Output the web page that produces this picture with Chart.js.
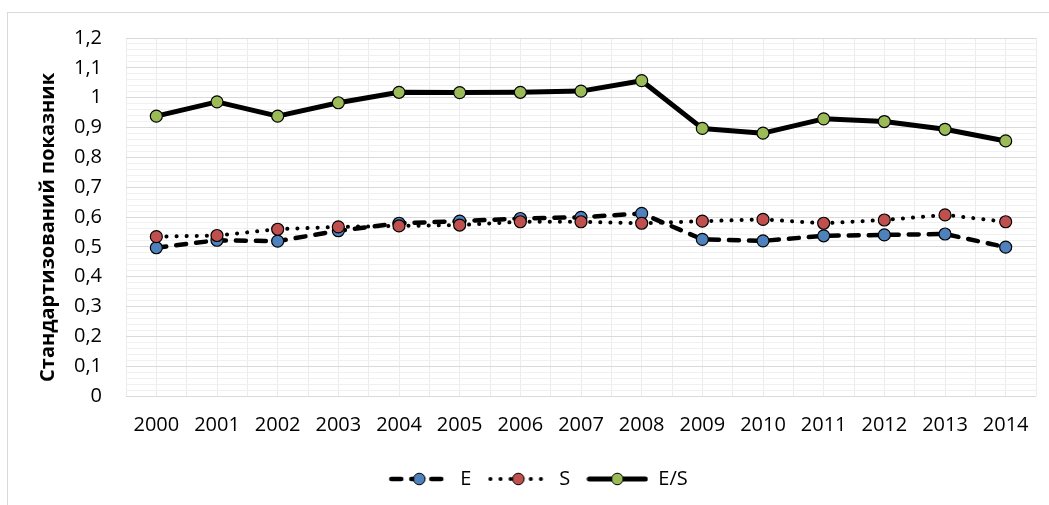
<!DOCTYPE html>
<html>
<head>
<meta charset="utf-8">
<script src="https://cdn.jsdelivr.net/npm/chart.js@4"></script>
<style>
  html, body { margin: 0; padding: 0; background: #fff; overflow: hidden; }
  #frame { position: absolute; left: 7px; top: 12px; width: 1100px; height: 600px; border: 1px solid #d9d9d9; }
  #c { position: absolute; left: 0; top: 0; }
</style>
</head>
<body>
<div id="frame"></div>
<canvas id="c" width="1049" height="505"></canvas>
<script>
const categories = ['2000','2001','2002','2003','2004','2005','2006','2007','2008','2009','2010','2011','2012','2013','2014'];
const seriesE  = [0.497,0.522,0.519,0.554,0.579,0.586,0.595,0.599,0.612,0.525,0.520,0.537,0.540,0.543,0.499];
const seriesS  = [0.534,0.538,0.559,0.567,0.570,0.573,0.584,0.584,0.579,0.586,0.592,0.579,0.590,0.607,0.584];
const seriesES = [0.938,0.986,0.938,0.983,1.018,1.017,1.018,1.022,1.057,0.897,0.881,0.929,0.920,0.894,0.855];
const yTickLabels = ['0','0,1','0,2','0,3','0,4','0,5','0,6','0,7','0,8','0,9','1','1,1','1,2'];
const seriesNames = ['E','S','E/S'];
const yTitle = 'Стандартизований показник';

const BLUE = '#4F81BD', RED = '#C0504D', GREEN = '#9BBB59';
const FONT = "'Open Sans', sans-serif";

const styles = [
  { fill: BLUE,  width: 4.5, dash: [10, 10], },
  { fill: RED,   width: 4,   dash: [0.1, 10], },
  { fill: GREEN, width: 5,   dash: [],        }
];

function legendIcon(st) {
  const cv = document.createElement('canvas');
  cv.width = 62; cv.height = 16;
  const g = cv.getContext('2d');
  g.strokeStyle = '#000';
  g.lineWidth = st.width;
  g.lineCap = 'round';
  g.setLineDash(st.dash);
  g.beginPath(); g.moveTo(3, 8); g.lineTo(59, 8); g.stroke();
  g.setLineDash([]);
  g.beginPath(); g.arc(31, 8, 5.8, 0, Math.PI * 2);
  g.fillStyle = st.fill; g.fill();
  g.lineWidth = 1; g.strokeStyle = '#000'; g.stroke();
  return cv;
}

const dataArrays = [seriesE, seriesS, seriesES];
const datasets = dataArrays.map((arr, i) => ({
  label: seriesNames[i],
  data: arr,
  xAxisID: 'x',
  borderColor: '#000',
  borderWidth: styles[i].width,
  borderDash: styles[i].dash,
  borderCapStyle: 'round',
  borderJoinStyle: 'round',
  pointRadius: 6,
  pointHoverRadius: 6,
  pointBackgroundColor: styles[i].fill,
  pointBorderColor: '#000',
  pointBorderWidth: 1.2,
  tension: 0,
  fill: false,
  order: 3 - i
}));

new Chart(document.getElementById('c'), {
  type: 'line',
  data: { labels: categories, datasets },
  options: {
    responsive: false,
    animation: false,
    devicePixelRatio: 1,
    layout: { padding: { top: 38, right: 13, left: 40, bottom: 6 } },
    plugins: {
      tooltip: { enabled: false },
      legend: {
        position: 'bottom',
        labels: {
          usePointStyle: true,
          pointStyleWidth: 62,
          boxHeight: 16,
          padding: 16,
          color: '#000',
          font: { family: FONT, size: 20 },
          generateLabels: () => seriesNames.map((n, i) => ({
            text: n,
            pointStyle: legendIcon(styles[i]),
            fillStyle: styles[i].fill,
            strokeStyle: '#000',
            lineWidth: 0,
            hidden: false,
            datasetIndex: i,
            fontColor: '#000'
          }))
        }
      }
    },
    scales: {
      x: {
        type: 'category',
        position: 'bottom',
        offset: true,
        grid: { offset: true, color: '#ececec', drawTicks: false },
        border: { display: false },
        ticks: { color: '#000', font: { family: FONT, size: 20 }, padding: 17, maxRotation: 0, autoSkip: false },
        afterFit: s => { s.height = 57; }
      },
      x2: {
        type: 'category',
        position: 'bottom',
        offset: true,
        grid: { offset: false, color: '#ececec', drawTicks: false },
        border: { display: false },
        ticks: { display: false },
        afterFit: s => { s.height = 0; }
      },
      y: {
        type: 'linear',
        min: 0,
        max: 1.2,
        grid: {
          drawTicks: false,
          color: c => (Math.round(c.tick.value * 100) % 10 === 0) ? '#d9d9d9' : '#f0f0f0'
        },
        border: { display: false },
        ticks: {
          stepSize: 0.02,
          maxTicksLimit: 100,
          autoSkip: false,
          padding: 24,
          color: '#000',
          font: { family: FONT, size: 20 },
          callback: v => {
            const k = Math.round(v * 100);
            return k % 10 === 0 ? yTickLabels[k / 10] : '';
          }
        },
        title: {
          display: true,
          text: yTitle + '    ',
          color: '#000',
          font: { family: FONT, size: 20, weight: 'bold' },
          padding: { top: -4, bottom: 0 }
        },
        afterFit: s => { s.width = 86; }
      }
    }
  }
});
</script>
</body>
</html>
